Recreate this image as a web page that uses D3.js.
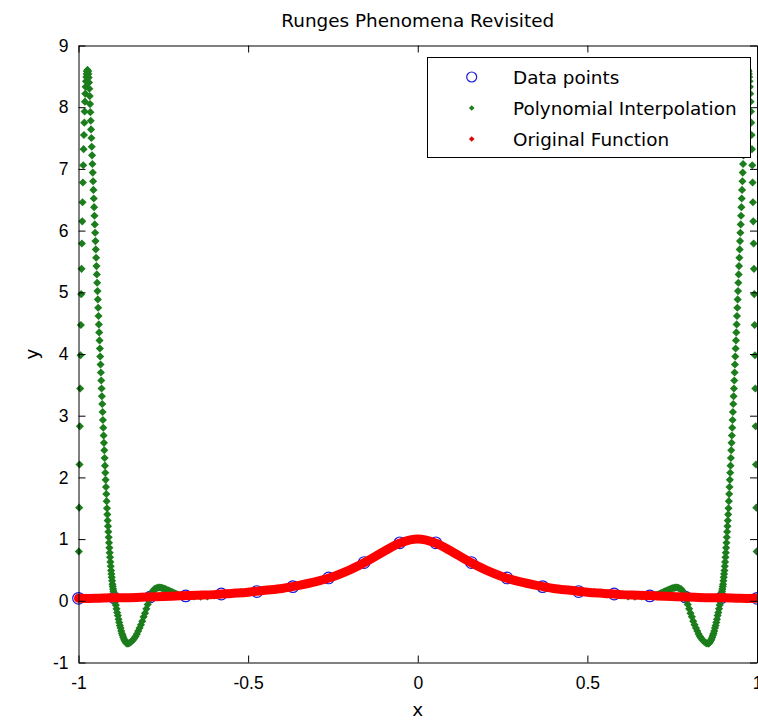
<!DOCTYPE html>
<html>
<head>
<meta charset="utf-8">
<script src="https://cdn.jsdelivr.net/npm/d3@7"></script>
<style>
  body { margin: 0; background: #fff; }
  svg { display: block; }
</style>
</head>
<body>
<div id="chart"></div>
<script>
// interpolation nodes (20 equally spaced points)
var nodeX = [-1, -0.895, -0.789, -0.684, -0.579, -0.474, -0.368, -0.263, -0.158, -0.053,
             0.053, 0.158, 0.263, 0.368, 0.474, 0.579, 0.684, 0.789, 0.895, 1];
var nodeY = [0.04, 0.05, 0.06, 0.08, 0.11, 0.15, 0.23, 0.37, 0.62, 0.94,
             0.94, 0.62, 0.37, 0.23, 0.15, 0.11, 0.08, 0.06, 0.05, 0.04];

// original function, x = -1 .. 1 every 0.05
var funcStart = -1, funcStep = 0.05;
var funcY = [0.04, 0.04, 0.05, 0.05, 0.06, 0.07, 0.08, 0.09, 0.10, 0.12, 0.14, 0.17, 0.20, 0.25, 0.31, 0.39, 0.50, 0.64, 0.80, 0.94,
             1.00,
             0.94, 0.80, 0.64, 0.50, 0.39, 0.31, 0.25, 0.20, 0.17, 0.14, 0.12, 0.10, 0.09, 0.08, 0.07, 0.06, 0.05, 0.05, 0.04, 0.04];

var polyLeftA = [0.04, 0.80, 1.51, 2.21, 2.83, 3.44, 3.98, 4.47, 4.97, 5.38, 5.79, 6.15, 6.46, 6.78, 7.06, 7.32, 7.55, 7.75,
                 7.93, 8.09, 8.22, 8.33, 8.42, 8.49, 8.54, 8.58, 8.60, 8.60, 8.58, 8.54, 8.48, 8.40, 8.30, 8.18, 8.05, 7.92];
var polyLeftB = [7.78, 7.64, 7.50, 7.36, 7.22, 7.08, 6.94, 6.80, 6.66, 6.52, 6.38, 6.24, 6.10, 5.965, 5.83, 5.695, 5.56,
                 5.425, 5.29, 5.155, 5.02, 4.885, 4.75, 4.615, 4.48, 4.35, 4.22, 4.09, 3.96, 3.83, 3.70, 3.57, 3.44, 3.315,
                 3.19, 3.06, 2.93, 2.805, 2.68, 2.56, 2.44, 2.315, 2.19, 2.075, 1.96, 1.845, 1.73, 1.615, 1.50, 1.40, 1.30,
                 1.21, 1.12, 1.03, 0.94, 0.86, 0.78, 0.705, 0.63, 0.56, 0.49, 0.435, 0.38, 0.325, 0.27, 0.23, 0.19, 0.155,
                 0.12, 0.085, 0.05];
var polyLeftT = [-0.01, -0.07, -0.13, -0.19, -0.24, -0.30, -0.35, -0.40, -0.44, -0.49, -0.53, -0.56, -0.59, -0.62, -0.64,
                 -0.66, -0.68, -0.69, -0.69];
var polyLeftC = [-0.69, -0.68, -0.66, -0.64, -0.61, -0.58, -0.54, -0.49, -0.44, -0.39, -0.33, -0.26, -0.20, -0.13, -0.06,
                 0.01, 0.08, 0.13, 0.165, 0.19, 0.20, 0.21, 0.215, 0.215, 0.21, 0.205, 0.20, 0.19, 0.18, 0.17, 0.16, 0.15,
                 0.14, 0.13, 0.12, 0.11, 0.10, 0.095, 0.09];
var polyMid = [0.08, 0.07, 0.065, 0.07, 0.085, 0.105, 0.125, 0.135, 0.14, 0.145, 0.15, 0.16, 0.17, 0.185, 0.20, 0.215, 0.235,
               0.26, 0.28, 0.31, 0.34, 0.37, 0.41, 0.45, 0.50, 0.55, 0.61, 0.67, 0.74, 0.80, 0.86, 0.92, 0.96, 0.99, 1.00,
               0.99, 0.96, 0.92, 0.86, 0.80, 0.74, 0.67, 0.61, 0.55, 0.50, 0.45, 0.41, 0.37, 0.34, 0.31, 0.28, 0.26, 0.235,
               0.215, 0.20, 0.185, 0.17, 0.16, 0.15, 0.145, 0.14, 0.135, 0.125, 0.105, 0.085, 0.07, 0.065, 0.07, 0.08];
var polyRightC = [0.09, 0.095, 0.10, 0.11, 0.12, 0.13, 0.14, 0.15, 0.16, 0.17, 0.18, 0.19, 0.20, 0.205, 0.21, 0.215, 0.215,
                  0.21, 0.20, 0.19, 0.165, 0.13, 0.08, 0.01, -0.06, -0.13, -0.20, -0.26, -0.33, -0.39, -0.44, -0.49, -0.54,
                  -0.58, -0.61, -0.64, -0.66, -0.68, -0.69];
var polyRightT = [-0.69, -0.69, -0.68, -0.66, -0.64, -0.62, -0.59, -0.56, -0.53, -0.49, -0.44, -0.40, -0.35, -0.30, -0.24,
                  -0.19, -0.13, -0.07, -0.01];
var polyRightB = [0.05, 0.085, 0.12, 0.155, 0.19, 0.23, 0.27, 0.325, 0.38, 0.435, 0.49, 0.56, 0.63, 0.705, 0.78, 0.86, 0.94,
                  1.03, 1.12, 1.21, 1.30, 1.40, 1.50, 1.615, 1.73, 1.845, 1.96, 2.075, 2.19, 2.315, 2.44, 2.56, 2.68, 2.805,
                  2.93, 3.06, 3.19, 3.315, 3.44, 3.57, 3.70, 3.83, 3.96, 4.09, 4.22, 4.35, 4.48, 4.615, 4.75, 4.885, 5.02,
                  5.155, 5.29, 5.425, 5.56, 5.695, 5.83, 5.965, 6.10, 6.24, 6.38, 6.52, 6.66, 6.80, 6.94, 7.08, 7.22, 7.36,
                  7.50, 7.64, 7.78];
var polyRightA = [7.92, 8.05, 8.18, 8.30, 8.40, 8.48, 8.54, 8.58, 8.60, 8.60, 8.58, 8.54, 8.49, 8.42, 8.33, 8.22, 8.09, 7.93,
                  7.75, 7.55, 7.32, 7.06, 6.78, 6.46, 6.15, 5.79, 5.38, 4.97, 4.47, 3.98, 3.44, 2.83, 2.21, 1.51, 0.80, 0.04];

var polyPieces = [
    {start: -1,     step: 0.001, ys: polyLeftA},
    {start: -0.964, step: 0.001, ys: polyLeftB},
    {start: -0.892, step: 0.002, ys: polyLeftT},
    {start: -0.852, step: 0.004, ys: polyLeftC},
    {start: -0.68,  step: 0.02,  ys: polyMid},
    {start: 0.700,  step: 0.004, ys: polyRightC},
    {start: 0.856,  step: 0.002, ys: polyRightT},
    {start: 0.894,  step: 0.001, ys: polyRightB},
    {start: 0.965,  step: 0.001, ys: polyRightA}
];

var xTicks = [-1, -0.5, 0, 0.5, 1];
var yTicks = [-1, 0, 1, 2, 3, 4, 5, 6, 7, 8, 9];
var legendLabels = ["Data points", "Polynomial Interpolation", "Original Function"];

var W = 758, H = 722;
var plotL = 78.5, plotR = 757, plotT = 45.5, plotB = 662.5;
var textFont = "'DejaVu Sans', sans-serif";
var tickFont = "'Liberation Sans Narrow', 'Liberation Sans', Arial, sans-serif";
var green = "#1b7d1b", red = "#ff0000", blue = "#1a1ad8";

var polyData = [];
polyPieces.forEach(function(p) {
    p.ys.forEach(function(v, i) {
        polyData.push({x: p.start + i * p.step, y: v});
    });
});
var funcData = funcY.map(function(v, i) { return {x: funcStart + i * funcStep, y: v}; });
var nodeData = nodeX.map(function(v, i) { return {x: v, y: nodeY[i]}; });

var x = d3.scaleLinear().domain([-1, 1]).range([plotL, plotR]);
var y = d3.scaleLinear().domain([-1, 9]).range([plotB, plotT]);

var svg = d3.select("#chart").append("svg")
    .attr("width", W)
    .attr("height", H);

svg.append("rect").attr("width", W).attr("height", H).attr("fill", "#fff");

// data points
svg.append("g").selectAll("circle")
    .data(nodeData)
    .enter().append("circle")
    .attr("cx", function(d) { return x(d.x); })
    .attr("cy", function(d) { return y(d.y); })
    .attr("r", 5.8)
    .attr("fill", "none")
    .attr("stroke", blue)
    .attr("stroke-width", 1.2);

// polynomial interpolation
var diamond = d3.symbol().type(d3.symbolDiamond2).size(42);
svg.append("g").selectAll("path")
    .data(polyData)
    .enter().append("path")
    .attr("transform", function(d) { return "translate(" + x(d.x) + "," + y(d.y) + ")"; })
    .attr("d", diamond)
    .attr("fill", green);

// original function
var line = d3.line()
    .x(function(d) { return x(d.x); })
    .y(function(d) { return y(d.y); })
    .curve(d3.curveCatmullRom);
svg.append("path")
    .datum(funcData)
    .attr("d", line)
    .attr("fill", "none")
    .attr("stroke", red)
    .attr("stroke-width", 9)
    .attr("stroke-linecap", "round")
    .attr("stroke-linejoin", "round");

//
// Axes (box with inward ticks)
//
function styleAxis(g) {
    g.selectAll("path, line").attr("stroke", "#000").attr("stroke-width", 1);
    g.selectAll("text").attr("fill", "#000").style("font-family", tickFont).style("font-size", "17.5px");
}

svg.append("g")
    .attr("transform", "translate(0," + plotB + ")")
    .call(d3.axisBottom(x).tickValues(xTicks).tickSizeInner(-7).tickSizeOuter(0).tickPadding(14)
          .tickFormat(function(d) { return String(d); }))
    .call(styleAxis);

svg.append("g")
    .attr("transform", "translate(0," + plotT + ")")
    .call(d3.axisTop(x).tickValues(xTicks).tickSizeInner(-7).tickSizeOuter(0).tickFormat(""))
    .call(styleAxis);

svg.append("g")
    .attr("transform", "translate(" + plotL + ",0)")
    .call(d3.axisLeft(y).tickValues(yTicks).tickSizeInner(-7).tickSizeOuter(0).tickPadding(10)
          .tickFormat(function(d) { return String(d); }))
    .call(styleAxis);

svg.append("g")
    .attr("transform", "translate(" + plotR + ",0)")
    .call(d3.axisRight(y).tickValues(yTicks).tickSizeInner(-7).tickSizeOuter(0).tickFormat(""))
    .call(styleAxis);

// title and labels
svg.append("text")
    .attr("x", (plotL + plotR) / 2)
    .attr("y", 27)
    .attr("text-anchor", "middle")
    .style("font-family", textFont)
    .style("font-size", "18.4px")
    .text("Runges Phenomena Revisited");

svg.append("text")
    .attr("x", (plotL + plotR) / 2)
    .attr("y", 716)
    .attr("text-anchor", "middle")
    .style("font-family", textFont)
    .style("font-size", "18.4px")
    .text("x");

svg.append("text")
    .attr("transform", "translate(38," + (plotT + plotB) / 2 + ") rotate(-90)")
    .attr("text-anchor", "middle")
    .style("font-family", textFont)
    .style("font-size", "18.4px")
    .text("y");

// Legend
var lg = svg.append("g");
lg.append("rect")
    .attr("x", 427.5)
    .attr("y", 57.5)
    .attr("width", 323)
    .attr("height", 100)
    .attr("fill", "#fff")
    .attr("stroke", "#000")
    .attr("stroke-width", 1);

var rowY = [77, 108, 139];
lg.append("circle")
    .attr("cx", 471.7).attr("cy", rowY[0]).attr("r", 5)
    .attr("fill", "none").attr("stroke", blue).attr("stroke-width", 1.2);
lg.append("path")
    .attr("transform", "translate(471.7," + rowY[1] + ")")
    .attr("d", d3.symbol().type(d3.symbolDiamond2).size(20))
    .attr("fill", green);
lg.append("path")
    .attr("transform", "translate(471.7," + rowY[2] + ")")
    .attr("d", d3.symbol().type(d3.symbolDiamond2).size(20))
    .attr("fill", "#e00000");

legendLabels.forEach(function(t, i) {
    lg.append("text")
        .attr("x", 513)
        .attr("y", rowY[i])
        .attr("dy", "0.36em")
        .style("font-family", textFont)
        .style("font-size", "18.4px")
        .text(t);
});
</script>
</body>
</html>
